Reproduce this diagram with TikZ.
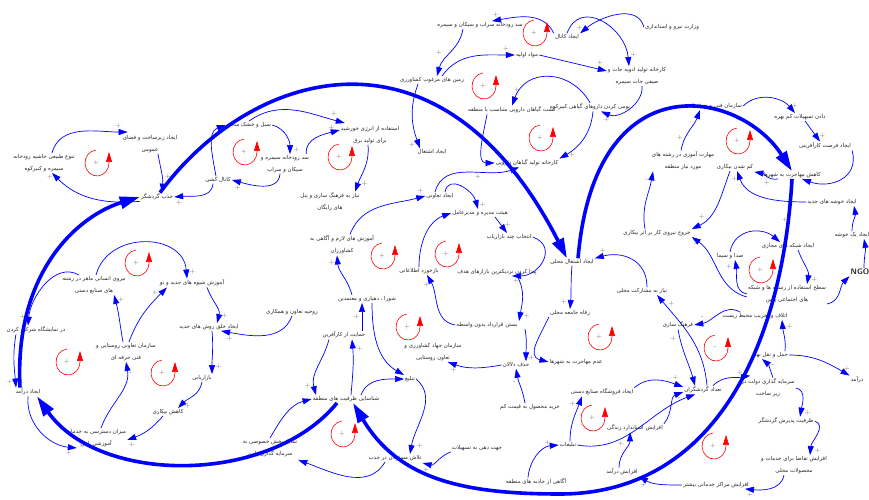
\documentclass[tikz,border=0pt]{standalone}
\usepackage{fontspec}
\usepackage{tikz}
\usetikzlibrary{arrows.meta}
\newfontfamily\farsi[Script=Arabic]{DejaVu Sans}
\TeXXeTstate=1
\newcommand{\pers}[1]{\beginR #1\endR}

\begin{document}
\begin{tikzpicture}[x=1pt,y=1pt,
  lbl/.style={inner sep=1pt,align=center,text=black!85,font=\farsi\fontsize{5.5}{12}\selectfont},
  arr/.style={blue,line width=0.7pt,-{Triangle[length=9pt,width=6pt]}},
  big/.style={blue,line width=3.6pt,-{Triangle[length=20pt,width=12pt]}},
  sgn/.style={text=black!60,font=\sffamily\fontsize{7}{7}\selectfont,inner sep=0.5pt},
  pics/rloop/.style={code={
    \draw[red,line width=0.6pt,-{Triangle[length=10pt,width=6pt]}] (95:12 and 13)
      arc[start angle=95,end angle=360,x radius=12,y radius=13] -- ++(0,11);
    \node[sgn] at (-1,0) {#1};}}]
\useasboundingbox (0,0) rectangle (869,500);

	\node[lbl] (vezarat) at (672,473) {\pers{وزارت نیرو و استانداری}};
	\node[lbl] (sadsarab) at (480,475) {\pers{سد رودخانه سراب و سیکان و سیمره}};
	\node[lbl] (kanal) at (567,463) {\pers{ایجاد کانال}};
	\node[lbl] (mavad) at (527,445) {\pers{مواد اولیه}};
	\node[lbl] (advie) at (637,424) {\pers{کارخانه تولید ادویه جات و}\\\pers{صیفی جات سیمره}};
	\node[lbl] (zamin) at (432,420) {\pers{زمین های مرغوب کشاورزی}};
	\node[lbl] (kesht) at (512,390) {\pers{کشت گیاهان دارویی متناسب با منطقه}};
	\node[lbl] (bumi) at (590,393) {\pers{بومی کردن داروهای گیاهی کبیرکوه}};
	\node[lbl] (karkhane) at (527,337) {\pers{کارخانه تولید گیاهان دارویی}};
	\node[lbl] (fanni) at (715,394) {\pers{سازمان فنی و حرفه ای}};
	\node[lbl] (tashilat) at (800,383) {\pers{دادن تسهیلات کم بهره}};
	\node[lbl] (karafarini) at (825,354) {\pers{ایجاد فرصت کارآفرینی}};
	\node[lbl] (maharat) at (683,339) {\pers{مهارت آموزی در رشته های}\\\pers{مورد نیاز منطقه}};
	\node[lbl] (bikari) at (735,333) {\pers{کم شدن بیکاری}};
	\node[lbl] (mohajerat) at (792,325) {\pers{کاهش مهاجرت به شهرها}};
	\node[lbl] (khushe) at (832,298) {\pers{ایجاد خوشه های جدید}};
	\node[lbl] (yekkhushe) at (852,265) {\pers{ایجاد یک خوشه}};
	\node[lbl,font=\sffamily\bfseries\fontsize{8}{8}\selectfont] (ngo) at (860,228) {NGO};
	\node[lbl] (khoruj) at (657,267) {\pers{خروج نیروی کار بر اثر بیکاری}};
	\node[lbl] (shabake) at (788,254) {\pers{ایجاد شبکه های مجازی}};
	\node[lbl] (seda) at (730,244) {\pers{صدا و سیما}};
	\node[lbl] (resane) at (787,206) {\pers{سطح استفاده از رسانه ها و شبکه}\\\pers{های اجتماعی پایین}};
	\node[lbl] (mosharekat) at (642,209) {\pers{نیاز به مشارکت محلی}};
	\node[lbl] (etlaf) at (755,184) {\pers{اتلاف و تخریب محیط زیست}};
	\node[lbl] (farhang) at (678,175) {\pers{فرهنگ سازی}};
	\node[lbl] (mahalli) at (572,238) {\pers{ایجاد اشتغال محلی}};
	\node[lbl] (refah) at (570,187) {\pers{رفاه جامعه محلی}};
	\node[lbl] (heyat) at (480,287) {\pers{هیئت مدیره و مدیرعامل}};
	\node[lbl] (entekhab) at (509,263) {\pers{انتخاب چند بازاریاب}};
	\node[lbl] (peyda) at (497,228) {\pers{پیدا کردن نزدیکترین بازارهای هدف}};
	\node[lbl] (bastan) at (487,175) {\pers{بستن قرارداد بدون واسطه}};
	\node[lbl] (taavoni) at (440,304) {\pers{ایجاد تعاونی}};
	\node[lbl] (bazkhord) at (419,229) {\pers{بازخورد اطلاعاتی}};
	\node[lbl] (amuzesh) at (342,255) {\pers{آموزش های لازم و آگاهی به}\\\pers{کشاورزان}};
	\node[lbl] (niazfarhang) at (330,298) {\pers{نیاز به فرهنگ سازی و پنل}\\\pers{های رایگان}};
	\node[lbl] (shura) at (367,201) {\pers{شورا ، دهیاری و معتمدین}};
	\node[lbl] (ruhie) at (292,188) {\pers{روحیه تعاون و همکاری}};
	\node[lbl] (hemayat) at (344,165) {\pers{حمایت از کارآفرین}};
	\node[lbl] (jahad) at (433,148) {\pers{سازمان جهاد کشاورزی و}\\\pers{تعاون روستایی}};
	\node[lbl] (hazf) at (516,135) {\pers{حذف دلالان}};
	\node[lbl] (adam) at (576,138) {\pers{عدم مهاجرت به شهرها}};
	\node[lbl] (kharid) at (530,93) {\pers{خرید محصول به قیمت کم}};
	\node[lbl] (forushgah) at (602,108) {\pers{ایجاد فروشگاه صنایع دستی}};
	\node[lbl] (standard) at (635,72) {\pers{افزایش استاندارد زندگی}};
	\node[lbl] (tablighat) at (568,55) {\pers{تبلیغات}};
	\node[lbl] (agahi) at (536,18) {\pers{آگاهی از جاذبه های منطقه}};
	\node[lbl] (afzayesh) at (622,28) {\pers{افزایش درآمد}};
	\node[lbl] (jahatdehi) at (477,52) {\pers{جهت دهی به تسهیلات}};
	\node[lbl] (tedad) at (703,110) {\pers{تعداد گردشگران}};
	\node[lbl] (haml) at (770,145) {\pers{حمل و نقل بهتر}};
	\node[lbl] (daramad) at (857,120) {\pers{درآمد}};
	\node[lbl] (sarmaye) at (768,112) {\pers{سرمایه گذاری دولت در}\\\pers{زیر ساخت}};
	\node[lbl] (zarfiat) at (786,79) {\pers{ظرفیت پذیرش گردشگر}};
	\node[lbl] (taghaza) at (794,35) {\pers{افزایش تقاضا برای خدمات و}\\\pers{محصولات محلی}};
	\node[lbl] (marakez) at (716,15) {\pers{افزایش مراکز خدماتی بیشتر}};
	\node[lbl] (shenasayi) at (346,101) {\pers{شناسایی ظرفیت های منطقه}};
	\node[lbl] (tabligh) at (410,121) {\pers{تبلیغ}};
	\node[lbl] (khosusi) at (270,52) {\pers{تمایل بخش خصوصی به}\\\pers{سرمایه گذاری پایین}};
	\node[lbl] (talash) at (395,42) {\pers{تلاش مسئولان در جذب}};
	\node[lbl] (dastresi) at (96,62) {\pers{میزان دسترسی به خدمات}\\\pers{آموزشی پایین}};
	\node[lbl] (ijad) at (28,108) {\pers{ایجاد درآمد}};
	\node[lbl] (sazman) at (126,148) {\pers{سازمان تعاونی روستایی و}\\\pers{فنی حرفه ای}};
	\node[lbl] (bazaryabi) at (202,122) {\pers{بازاریابی}};
	\node[lbl] (kahesh) at (168,88) {\pers{کاهش بیکاری}};
	\node[lbl] (khalgh) at (209,173) {\pers{ایجاد خلق روش های جدید}};
	\node[lbl] (shive) at (192,217) {\pers{آموزش شیوه های جدید و نو}};
	\node[lbl] (niruye) at (94,215) {\pers{نیروی انسانی ماهر در رشته}\\\pers{های صنایع دستی}};
	\node[lbl] (namayesh) at (36,170) {\pers{در نمایشگاه شرکت کردن}};
	\node[lbl] (jazb) at (157,303) {\pers{جذب گردشگر}};
	\node[lbl] (tanavo) at (44,337) {\pers{تنوع طبیعی حاشیه رودخانه}\\\pers{سیمره و کبیرکوه}};
	\node[lbl] (zirsakht) at (150,356) {\pers{ایجاد زیرساخت و فضای}\\\pers{عمومی}};
	\node[lbl] (kanalkeshi) at (218,320) {\pers{کانال کشی}};
	\node[lbl] (seyl) at (249,375) {\pers{سیل و خشک سالی}};
	\node[lbl] (sadseymare) at (285,336) {\pers{سد رودخانه سیمره و}\\\pers{سیکان و سراب}};
	\node[lbl] (energy) at (370,365) {\pers{استفاده از انرژی خورشید}\\\pers{برای تولید برق}};
	\node[lbl] (eshteghal) at (432,348) {\pers{ایجاد اشتغال}};

	\draw[big] ([xshift=-8]ijad.north) .. controls (14,230) and (80,285) .. (jazb.west);
	\draw[big] ([xshift=3]jazb.north) .. controls (250,430) and (440,490) .. ([xshift=-5]mahalli.north);
	\draw[big] ([xshift=6]mahalli.north) .. controls (595,440) and (740,410) .. (mohajerat.north);
	\draw[big] (mohajerat.south) .. controls (782,147) and (710,6) .. (560,6) .. controls (460,6) and (398,22) .. ([xshift=7]shenasayi.south);
	\draw[big] ([xshift=-9]shenasayi.south) .. controls (270,15) and (100,15) .. ([xshift=9]ijad.south);
	\node[sgn] at (785,280) {+};

	\draw[arr] (vezarat.west) to[out=105,in=40] node[sgn,pos=.95,above left]{+} (kanal.north east);
	\draw[arr] (kanal.north) to[out=70,in=95,looseness=1.4] node[sgn,pos=.9,right=3pt]{+} ([xshift=-8]advie.north);
	\draw[arr] (kanal.north west) to[out=115,in=10] node[sgn,pos=.95,above=2pt]{+} ([xshift=12]sadsarab.north);
	\draw[arr] ([xshift=-17]sadsarab.south) to[out=-100,in=75] node[sgn,pos=.5,left=8pt]{+} ([xshift=5]zamin.north);
	\draw[arr] ([xshift=10]zamin.north) to[out=55,in=180] node[sgn,pos=.9,above=3pt]{+} (mavad.west);
	\draw[arr] (mavad.east) -- node[sgn,pos=.9,above=3pt]{+} ([yshift=5]advie.west);
	\draw[arr] ([xshift=5]advie.south) to[out=-85,in=-25] node[sgn,pos=.9,below=3pt]{+} ([xshift=-30]bumi.south east);
	\draw[arr] (bumi.north) to[out=120,in=70,looseness=1.3] node[sgn,pos=.9,above=3pt]{+} (kesht.north);
	\draw[arr] ([xshift=3]bumi.south) to[out=-95,in=30] node[sgn,pos=.9,right=3pt]{+} (karkhane.north east);
	\draw[arr] ([xshift=-25]kesht.south) to[out=-100,in=180] (karkhane.west);
	\draw[arr] ([xshift=-14]zamin.south) to[out=-110,in=110] node[sgn,pos=.95,left=3pt]{+} ([xshift=-12]eshteghal.north);
	\draw[arr] ([xshift=-5]taavoni.north) to[out=75,in=200] node[sgn,pos=.6,below=2pt]{+} ([xshift=-8]karkhane.south);
	\draw[arr] ([xshift=5]taavoni.north) to[out=80,in=105,looseness=1.3] node[sgn,pos=.93,right=2pt]{+} ([xshift=-2]heyat.north);
	\draw[arr] ([xshift=8]amuzesh.north) to[out=70,in=195] node[sgn,pos=.95,above=3pt]{+} (taavoni.west);
	\draw[arr] (bazkhord.north) to[out=90,in=200] (heyat.west);
	\draw[arr] ([xshift=15]heyat.south) -- node[sgn,pos=.5,right=3pt]{+} ([xshift=-2]entekhab.north);
	\draw[arr] (entekhab.east) to[out=-20,in=0,looseness=1.6] node[sgn,pos=.95,below=2pt]{+} ([xshift=15]peyda.south);
	\draw[arr] ([xshift=20]peyda.south) to[out=-60,in=80] node[sgn,pos=.9,right=3pt]{+} ([xshift=32]bastan.north);
	\draw[arr] ([xshift=38]bastan.south) to[out=-80,in=90] node[sgn,pos=.9,right=2pt]{+} ([xshift=10]hazf.north);
	\draw[arr] (bastan.west) to[out=170,in=-60] node[sgn,pos=.9,below left]{+} ([xshift=8]bazkhord.south);
	\draw[arr] (refah.south west) to[out=-115,in=165,looseness=1.3] (adam.west);
	\draw[arr] (mahalli.south) to[out=-95,in=85] node[sgn,pos=.85,left=3pt]{+} (refah.north);
	\draw[arr] ([xshift=5]mosharekat.north) to[out=90,in=15,looseness=1.2] node[sgn,pos=.9,above=3pt]{+} (mahalli.north east);
	\draw[arr] (hazf.west) to[out=190,in=-20] node[sgn,pos=.9,below=3pt]{+} ([xshift=-15]jahad.south east);
	\draw[arr] ([xshift=-5]kharid.north) to[out=100,in=-80] node[sgn,pos=.6,left=3pt]{-} (hazf.south);
	\draw[arr] ([xshift=-8]agahi.north) to[out=85,in=185] node[sgn,pos=.85,above left]{+} (tablighat.west);
	\draw[arr] ([xshift=2]tablighat.north) to[out=90,in=-110] node[sgn,pos=.85,left=3pt]{+} ([xshift=-20]forushgah.south);
	\draw[arr] (tablighat.east) to[out=-10,in=200] ([xshift=12]tedad.south west);
	\draw[arr] ([xshift=-3]afzayesh.north) to[out=90,in=-90] node[sgn,pos=.7,left=3pt]{+} ([xshift=-5]standard.south);
	\draw[arr] (forushgah.north east) to[out=40,in=160] node[sgn,pos=.85,above=3pt]{+} ([yshift=3]tedad.west);
	\draw[arr] (standard.north east) to[out=50,in=200] node[sgn,pos=.9,below=3pt]{-} ([yshift=-2]tedad.west);
	\draw[arr] (farhang.south) to[out=-80,in=105] node[sgn,pos=.15,left=3pt]{+} ([xshift=-8]tedad.north);
	\draw[arr] ([xshift=4]tedad.north) to[out=95,in=-50] node[sgn,pos=.9,right=3pt]{+} ([xshift=15]mosharekat.south);
	\draw[arr] ([xshift=-15]etlaf.north) to[out=150,in=10] node[sgn,pos=.85,above=3pt]{-} (farhang.east);
	\draw[arr] ([xshift=15]haml.north) to[out=85,in=-85] node[sgn,pos=.8,right=3pt]{+} ([xshift=27]etlaf.south);
	\draw[arr] ([xshift=10]tedad.north) to[out=45,in=190] node[sgn,pos=.85,above left]{+} ([xshift=10,yshift=2]sarmaye.north west);
	\draw[arr] ([xshift=5]sarmaye.north) to[out=110,in=-40] node[sgn,pos=.6,right=3pt]{-} ([xshift=-8]haml.south);
	\draw[arr] (haml.east) to[out=0,in=150] node[sgn,pos=.9,above right]{+} (daramad.north west);
	\draw[arr] (sarmaye.east) to[out=-10,in=80] node[sgn,pos=.9,right=3pt]{+} ([xshift=14]zarfiat.north);
	\draw[arr] (zarfiat.east) to[out=-20,in=85] node[sgn,pos=.9,right=3pt]{+} ([xshift=16]taghaza.north);
	\draw[arr] ([xshift=-10]taghaza.south) to[out=-100,in=-5] node[sgn,pos=.9,below=2pt]{+} ([xshift=-5]marakez.south east);
	\draw[arr] (marakez.west) to[out=180,in=-30] node[sgn,pos=.9,below=3pt]{+} (afzayesh.south east);
	\draw[arr] (fanni.east) to[out=45,in=130] node[sgn,pos=.9,above right]{+} ([xshift=-5]tashilat.north);
	\draw[arr] ([xshift=5]tashilat.south) -- node[sgn,pos=.7,right=3pt]{+} ([xshift=-5]karafarini.north);
	\draw[arr] ([xshift=-2]maharat.north) to[out=80,in=-110] node[sgn,pos=.3,left=2pt]{+} ([xshift=-15]fanni.south);
	\draw[arr] (karafarini.south east) to[out=-75,in=-20,looseness=1.3] ([xshift=10]mohajerat.south);
	\draw[arr] ([xshift=-14]mohajerat.south) to[out=190,in=-10] node[sgn,pos=.5,below=3pt]{+} ([yshift=-1]bikari.south east);
	\draw[arr] (khushe.west) to[out=180,in=-70] node[sgn,pos=.9,left=2pt]{+} ([xshift=2]bikari.south);
	\draw[arr] (yekkhushe.north) to[out=90,in=-80] ([xshift=22]khushe.south);
	\draw[arr] ([xshift=4]ngo.north) to[out=90,in=-80] ([xshift=12]yekkhushe.south);
	\draw[arr] (resane.south east) to[out=10,in=-135] node[sgn,pos=.9,below=3pt]{-} (ngo.south west);
	\draw[arr] ([xshift=10]shabake.south) to[out=-70,in=80] node[sgn,pos=.9,right=3pt]{+} ([xshift=20]resane.north);
	\draw[arr] (seda.north) to[out=80,in=140,looseness=1.2] ([xshift=-8]shabake.north);
	\draw[arr] (resane.west) to[out=170,in=-80] node[sgn,pos=.85,left=3pt]{+} ([xshift=5]seda.south);
	\draw[arr] ([yshift=-3]resane.west) to[out=165,in=-35] node[sgn,pos=.95,below=3pt]{-} (khoruj.south east);
	\draw[arr] ([xshift=-5]bikari.south) to[out=-110,in=25] node[sgn,pos=.85,above=3pt]{+} (khoruj.north east);
	\draw[arr] ([xshift=-12]khoruj.north) to[out=100,in=-100] node[sgn,pos=.85,left=2pt]{-} ([xshift=-30]maharat.south);

	\draw[arr] (jazb.south west) to[out=185,in=-45] node[sgn,pos=.95,left=2pt]{+} ([xshift=8]tanavo.south);
	\draw[arr] ([xshift=8]tanavo.north) to[out=75,in=180] node[sgn,pos=.9,above=3pt]{+} ([xshift=6,yshift=2]zirsakht.north west);
	\draw[arr] ([xshift=8]zirsakht.south) to[out=-80,in=85] node[sgn,pos=.6,right=2pt]{+} ([xshift=5]jazb.north);
	\draw[arr] ([xshift=-5]kanalkeshi.south) to[out=-95,in=5] node[sgn,pos=.9,below=3pt]{+} (jazb.east);
	\draw[arr] ([xshift=-5]sadseymare.south) to[out=-95,in=-15] node[sgn,pos=.9,below=3pt]{+} (kanalkeshi.east);
	\draw[arr] (seyl.east) to[out=-15,in=90] node[sgn,pos=.9,right=3pt]{+} ([xshift=5]sadseymare.north);
	\draw[arr] ([xshift=-2]kanalkeshi.north) to[out=100,in=200] (seyl.west);
	\draw[arr] (seyl.north) to[out=35,in=165] node[sgn,pos=.9,above=3pt]{+} ([xshift=5,yshift=2]energy.north west);
	\draw[arr] ([xshift=-4]sadseymare.north east) to[out=95,in=195] node[sgn,pos=.9,above left]{+} ([yshift=5]energy.west);
	\draw[arr] ([xshift=-2]energy.south) to[out=-85,in=70] node[sgn,pos=.85,right=3pt]{+} ([xshift=25]niazfarhang.north);
	\draw[arr] ([xshift=-15]shura.north) to[out=105,in=-85] node[sgn,pos=.85,left=3pt]{+} ([xshift=-5]amuzesh.south);
	\draw[arr] ([xshift=18]hemayat.north) -- node[sgn,pos=.5,left=2pt]{+} ([xshift=-5]shura.south);
	\draw[arr] ([xshift=5]shenasayi.north) to[out=85,in=-85] node[sgn,pos=.85,right=3pt]{+} ([xshift=8]hemayat.south);
	\draw[arr] ([xshift=-15]hemayat.south) to[out=-105,in=105] node[sgn,pos=.85,left=3pt]{+} ([xshift=-30]shenasayi.north);
	\draw[arr] (khosusi.north) to[out=60,in=195] node[sgn,pos=.9,above left]{-} (shenasayi.west);
	\draw[arr] ([xshift=-10]talash.south) to[out=-120,in=-20] ([yshift=-2]khosusi.south east);
	\draw[arr] ([xshift=15]shenasayi.north) to[out=70,in=180] (tabligh.west);
	\draw[arr] (tabligh.east) to[out=-40,in=80] node[sgn,pos=.9,right=4pt]{+} ([xshift=15]talash.north);
	\draw[arr] (jahatdehi.south west) to[out=200,in=-15] node[sgn,pos=.9,below=3pt]{+} ([yshift=-1]talash.south east);
	\draw[arr] ([xshift=5]shura.south) to[out=-90,in=150] (tabligh.north west);
	\draw[arr] (ruhie.south) to[out=-110,in=-10] node[sgn,pos=.9,below=3pt]{+} ([xshift=12]khalgh.south);
	\draw[arr] ([xshift=-15]niruye.north) to[out=150,in=85] node[sgn,pos=.9,left=3pt]{+} ([xshift=-8]namayesh.north);
	\draw[arr] ([xshift=2]niruye.north) to[out=75,in=95,looseness=1.3] node[sgn,pos=.95,right=3pt]{+} ([xshift=-5]shive.north);
	\draw[arr] ([xshift=-3]sazman.north) to[out=100,in=-75] node[sgn,pos=.9,right=2pt]{+} ([xshift=20]niruye.south);
	\draw[arr] ([xshift=3]sazman.north) to[out=70,in=-135] node[sgn,pos=.9,left=3pt]{+} ([xshift=-25]shive.south);
	\draw[arr] ([xshift=15]shive.south) to[out=-70,in=75] node[sgn,pos=.8,right=3pt]{+} ([xshift=8]khalgh.north);
	\draw[arr] ([xshift=3]khalgh.south) to[out=-85,in=90] node[sgn,pos=.85,right=3pt]{+} ([xshift=10]bazaryabi.north);
	\draw[arr] (bazaryabi.south) to[out=-100,in=45] node[sgn,pos=.9,right=3pt]{+} ([xshift=10]kahesh.north);
	\draw[arr] ([xshift=-5]kahesh.south) to[out=-130,in=20] node[sgn,pos=.9,below=3pt]{+} ([yshift=-2]dastresi.east);
	\draw[arr] ([xshift=5]dastresi.north) to[out=70,in=-80] node[sgn,pos=.85,right=2pt]{-} (sazman.south);
	\draw[arr] (ijad.south) to[out=-95,in=175] node[sgn,pos=.9,below=3pt]{+} ([xshift=12]dastresi.south west);
	\draw[arr] ([xshift=-20]namayesh.south) to[out=-100,in=95] node[sgn,pos=.9,left=2pt]{+} ([xshift=-12]ijad.north);

	\pic at (97,337) {rloop=+};
	\pic at (245,348) {rloop=+};
	\pic at (340,343) {rloop=+};
	\pic at (535,467) {rloop=+};
	\pic at (484,414) {rloop=+};
	\pic at (541,362) {rloop=+};
	\pic at (738,359) {rloop=+};
	\pic at (137,237) {rloop=+};
	\pic at (383,244) {rloop=+};
	\pic at (408,173) {rloop=+};
	\pic at (447,246) {rloop=+};
	\pic at (600,163) {rloop=+};
	\pic at (761,230) {rloop=+};
	\pic at (68,138) {rloop=+};
	\pic at (163,127) {rloop=+};
	\pic at (343,66) {rloop=+};
	\pic at (593,82) {rloop=+};
	\pic at (716,152) {rloop=-};
	\pic at (714,54) {rloop=+};
\end{tikzpicture}
\end{document}
